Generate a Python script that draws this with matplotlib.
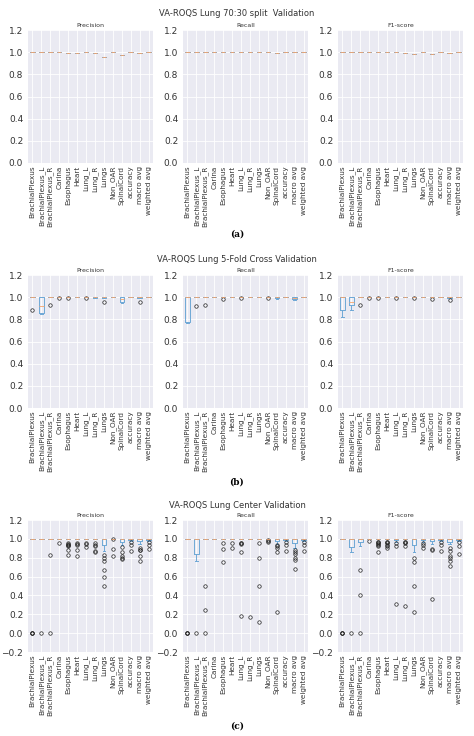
import matplotlib
matplotlib.use("Agg")
import matplotlib.pyplot as plt

CATS = ["BrachialPlexus", "BrachialPlexus_L", "BrachialPlexus_R", "Carina", "Esophagus",
        "Heart", "Lung_L", "Lung_R", "Lungs", "Non_OAR", "SpinalCord", "accuracy",
        "macro avg", "weighted avg"]
METRICS = ["Precision", "Recall", "F1-score"]
ROW_TITLES = ["VA-ROQS Lung 70:30 split  Validation",
              "VA-ROQS Lung 5-Fold Cross Validation",
              "VA-ROQS Lung Center Validation"]
CAPTIONS = ["(a)", "(b)", "(c)"]


def pad(vals, n):
    # per-case scores below 1.0; remaining cases scored 1.0
    return sorted(vals) + [1.0] * (n - len(vals))


# (a) 70:30 split: one score per structure
split_prec = [[1.0], [1.0], [1.0], [1.0], [0.99], [0.99], [1.0], [0.99], [0.96], [1.0], [0.97], [1.0], [0.99], [1.0]]
split_rec = [[1.0], [1.0], [1.0], [1.0], [1.0], [1.0], [1.0], [1.0], [1.0], [1.0], [0.995], [1.0], [1.0], [1.0]]
split_f1 = [[1.0], [1.0], [1.0], [1.0], [1.0], [1.0], [1.0], [0.995], [0.98], [1.0], [0.985], [1.0], [0.995], [1.0]]

# (b) 5-fold: five folds
cv_prec = [[0.88], [0.85, 0.86, 0.92, 1.0], [0.93], [0.99], [0.99], [], [0.99], [0.99, 0.995], [0.96, 0.99],
           [], [0.95, 0.96, 0.98], [], [0.96, 0.99], []]
cv_rec = [[0.77, 0.78], [0.92], [0.93], [], [0.98], [], [0.995], [], [], [0.99], [0.98, 0.99], [],
          [0.97, 0.98, 0.99], []]
cv_f1 = [[0.82, 0.88], [0.88, 0.93, 0.96], [0.93], [0.99], [0.99, 1.0], [], [0.995], [], [0.99], [],
         [0.98], [], [0.97, 0.99], []]

# (c) center validation: 32 cases
cen_prec = [[0.0, 0.0, 0.0], [0.0], [0.0, 0.83], [0.96], [0.83, 0.88, 0.92, 0.93, 0.94, 0.95, 0.96],
            [0.82, 0.88, 0.93, 0.95, 0.96], [0.91, 0.95, 0.96], [0.86, 0.87, 0.92, 0.94, 0.96],
            [0.5, 0.6, 0.67, 0.76, 0.8, 0.83, 0.87, 0.91, 0.95, 0.96, 0.97, 0.98], [0.82, 0.89, 0.995],
            [0.79, 0.8, 0.82, 0.86, 0.91, 0.93, 0.95, 0.96, 0.97, 0.98],
            [0.87, 0.93, 0.97, 0.98, 0.98, 0.98, 0.99, 0.99, 0.99],
            [0.76, 0.82, 0.88, 0.88, 0.9, 0.95, 0.96, 0.97, 0.98, 0.99],
            [0.89, 0.94, 0.97, 0.98, 0.98, 0.98, 0.99, 0.99, 0.99]]
cen_rec = [[0.0, 0.0, 0.0], [0.0, 0.76, 0.78, 0.8, 0.8, 0.81, 0.82, 0.82, 0.85, 0.9, 0.95], [0.0, 0.25, 0.5], [],
           [0.75, 0.89, 0.96], [0.9, 0.96], [0.18, 0.86, 0.95, 0.955, 0.96], [0.17],
           [0.12, 0.5, 0.8, 0.96], [0.97, 0.98, 0.99],
           [0.22, 0.86, 0.9, 0.92, 0.94, 0.95, 0.97, 0.98, 0.98, 0.99],
           [0.87, 0.93, 0.97, 0.98, 0.98, 0.98, 0.99, 0.99, 0.99],
           [0.68, 0.78, 0.8, 0.84, 0.86, 0.88, 0.9, 0.95, 0.96, 0.97, 0.98, 0.99],
           [0.87, 0.93, 0.97, 0.98, 0.98, 0.98, 0.99, 0.99, 0.99]]
cen_f1 = [[0.0, 0.0, 0.0], [0.0, 0.86, 0.87, 0.88, 0.88, 0.89, 0.9, 0.9, 0.92, 0.95, 0.97],
          [0.0, 0.4, 0.67, 0.92, 0.93, 0.95, 0.96, 0.96, 0.97, 0.98],
          [0.98], [0.86, 0.92, 0.94, 0.95, 0.96, 0.97, 0.97], [0.9, 0.92, 0.94, 0.96, 0.97, 0.97],
          [0.31, 0.92, 0.96, 0.97, 0.97, 0.98, 0.98, 0.98, 0.99, 0.99], [0.29, 0.92, 0.96, 0.97, 0.97],
          [0.22, 0.5, 0.75, 0.8, 0.86, 0.9, 0.92, 0.93, 0.93, 0.95, 0.97],
          [0.9, 0.93, 0.96, 0.97, 0.97, 0.98, 0.98, 0.98, 0.99, 0.99],
          [0.36, 0.88, 0.89, 0.95, 0.96, 0.97, 0.97, 0.98, 0.98, 0.99],
          [0.87, 0.93, 0.97, 0.98, 0.98, 0.98, 0.99, 0.99, 0.99],
          [0.71, 0.76, 0.8, 0.82, 0.87, 0.9, 0.95, 0.96, 0.97, 0.98, 0.98, 0.99],
          [0.84, 0.92, 0.97, 0.98, 0.98, 0.98, 0.99, 0.99, 0.99]]

ROWS = [(split_prec, split_rec, split_f1, 1),
        (cv_prec, cv_rec, cv_f1, 5),
        (cen_prec, cen_rec, cen_f1, 32)]
YLIMS = [(0, 1.2), (0, 1.2), (-0.2, 1.2)]

W, H = 474, 736
fig = plt.figure(figsize=(W / 100, H / 100), dpi=100)
fig.patch.set_facecolor("white")

panel_x = [28, 183, 338]
panel_w = 125
row_top = [30, 275, 520]
row_h = [133, 133, 132]
title_y = [14, 259, 505]
cap_y = [234, 482, 726]

blue = "#6fa8d6"
for r, (prec, rec, f1, n) in enumerate(ROWS):
    fig.text(0.5, 1 - title_y[r] / H, ROW_TITLES[r], ha="center", va="center", fontsize=6, color="#333333")
    fig.text(0.5, 1 - cap_y[r] / H, CAPTIONS[r], ha="center", va="center", fontsize=6.5,
             fontweight="bold", family="DejaVu Serif")
    for c, data in enumerate([prec, rec, f1]):
        ax = fig.add_axes([panel_x[c] / W, 1 - (row_top[r] + row_h[r]) / H, panel_w / W, row_h[r] / H])
        ax.set_facecolor("#eaeaf2")
        ax.grid(True, color="white", linewidth=0.6)
        ax.set_axisbelow(True)
        for s in ax.spines.values():
            s.set_visible(False)
        samples = [pad(v, n) for v in data]
        ax.boxplot(samples, widths=0.5,
                   boxprops=dict(color=blue, linewidth=0.7),
                   whiskerprops=dict(color=blue, linewidth=0.7),
                   capprops=dict(color=blue, linewidth=0.7),
                   medianprops=dict(color="#f5a46a", linewidth=0.6),
                   flierprops=dict(marker="o", markersize=2.5, markerfacecolor="none",
                                   markeredgecolor="#222222", markeredgewidth=0.5))
        ax.set_ylim(*YLIMS[r])
        ax.set_yticks([t / 10 for t in range(int(YLIMS[r][0] * 10), 13, 2)])
        ax.set_xticks(range(1, len(CATS) + 1))
        ax.set_xticklabels(CATS, rotation=90, fontsize=5.2, color="#333333")
        ax.tick_params(axis="y", labelsize=6.5, colors="#333333", length=0)
        ax.tick_params(axis="x", length=0, pad=2)
        ax.set_title(METRICS[c], fontsize=4.5, color="#333333", pad=2)

fig.savefig("out.png", dpi=100)
